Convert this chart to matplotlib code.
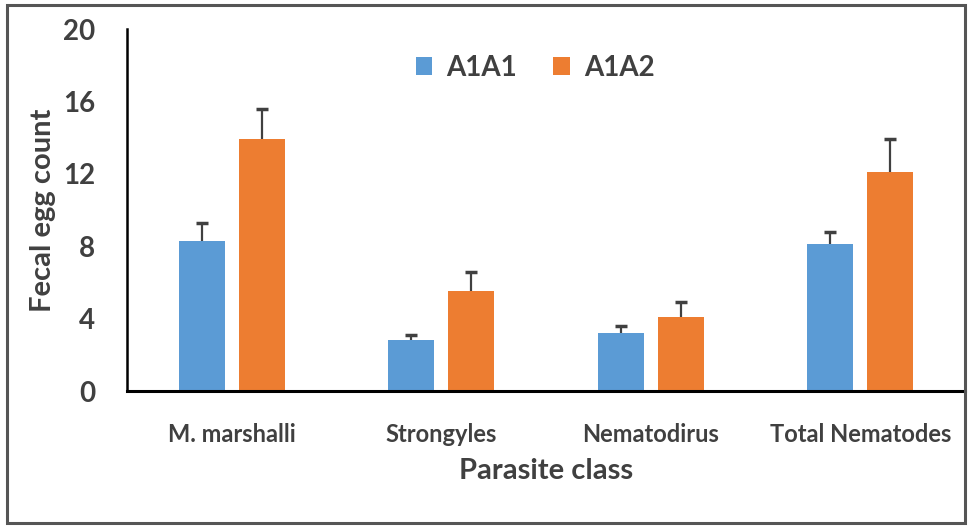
import numpy as np
import matplotlib
matplotlib.use('Agg')
import matplotlib.pyplot as plt
import matplotlib.patches as mpatches

categories = ['M. marshalli', 'Strongyles', 'Nematodirus', 'Total Nematodes']
a1a1 = [8.3, 2.8, 3.2, 8.1]
a1a1_err = [1.0, 0.3, 0.4, 0.7]
a1a2 = [13.9, 5.5, 4.1, 12.1]
a1a2_err = [1.7, 1.05, 0.8, 1.8]
yticks = [0, 4, 8, 12, 16, 20]

blue = '#5B9BD5'
orange = '#ED7D31'
txt = '#404040'
plt.rcParams['font.family'] = ['Lato', 'DejaVu Sans']

fig = plt.figure(figsize=(9.75, 5.32), dpi=100)
ax = fig.add_axes([127/975, 1-391/532, (965-127)/975, (391-29)/532])

x = np.arange(len(categories))
w = 0.22
off = 0.143
ax.bar(x - off, a1a1, w, color=blue, label='A1A1', zorder=2)
ax.bar(x + off, a1a2, w, color=orange, label='A1A2', zorder=2)

# upper error bars only
for xs, v, e in [(x - off, a1a1, a1a1_err), (x + off, a1a2, a1a2_err)]:
    top = np.array(v) + np.array(e)
    ax.vlines(xs, v, top, colors='#404040', linewidth=1.6, zorder=3)
    ax.plot(xs, top, linestyle='none', marker='_', markersize=8,
            markeredgewidth=2.5, color='#404040', zorder=3)

ax.set_xlim(-0.5, 3.5)
ax.set_ylim(0, 20)
ax.set_yticks(yticks)
ax.set_xticks(x)
ax.set_xticklabels(categories, fontsize=17, color=txt, fontweight='bold')
ax.tick_params(axis='y', length=0, pad=23, labelsize=20, labelcolor=txt)
ax.tick_params(axis='x', length=0, pad=23)
for lab in ax.get_yticklabels():
    lab.set_fontweight('bold')
ax.spines['top'].set_visible(False)
ax.spines['right'].set_visible(False)
ax.spines['left'].set_linewidth(1.8)
ax.spines['bottom'].set_linewidth(2.2)

ax.set_ylabel('Fecal egg count', fontsize=21, color=txt, labelpad=5,
              fontweight='bold')
ax.set_xlabel('Parasite class', fontsize=21, color=txt, labelpad=9,
              fontweight='bold')

leg = ax.legend(loc='center', bbox_to_anchor=(0.487, 0.892), ncol=2,
                frameon=False, fontsize=20, handlelength=0.6, handleheight=0.6,
                columnspacing=1.3, handletextpad=0.5)
for t in leg.get_texts():
    t.set_color(txt)
    t.set_fontweight('bold')

fig.patches.append(mpatches.Rectangle((7/975, 1-523/532), (965-7)/975, (523-5)/532,
                                      transform=fig.transFigure, fill=False,
                                      edgecolor='#555555', linewidth=2.2))

fig.savefig('out.png', dpi=100)
